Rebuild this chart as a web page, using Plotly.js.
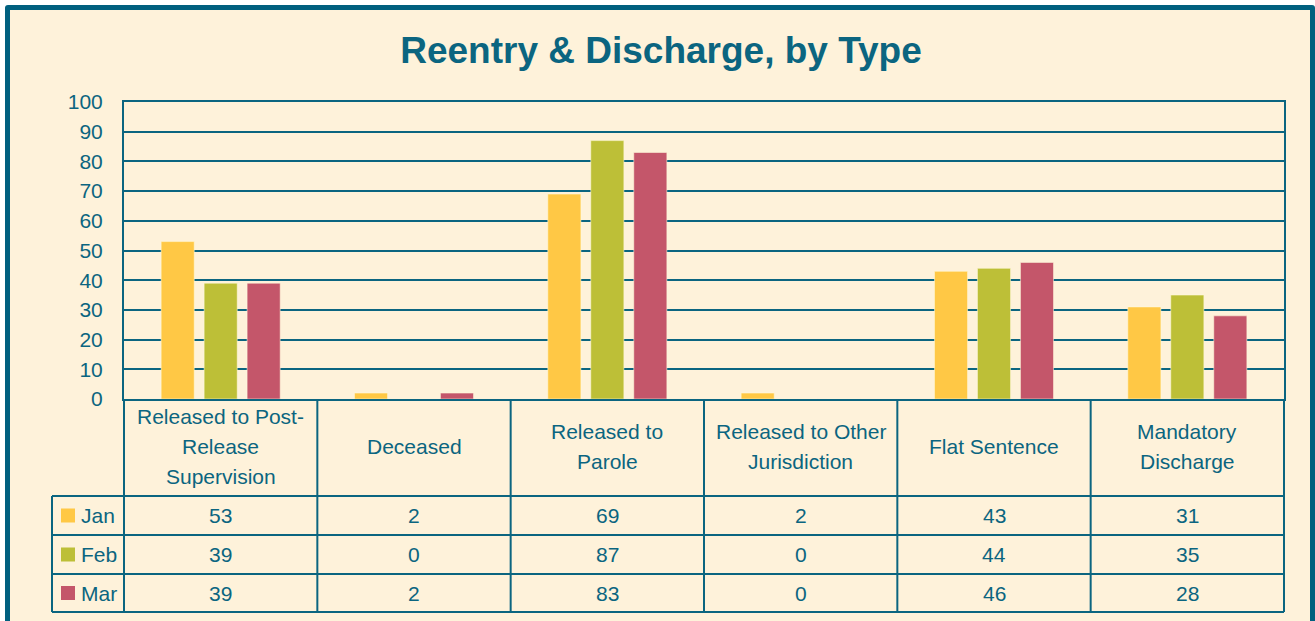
<!DOCTYPE html>
<html>
<head>
<meta charset="utf-8">
<script src="https://cdn.plot.ly/plotly-3.0.1.min.js"></script>
<style>
  html, body { margin: 0; padding: 0; background: #ffffff; overflow: hidden; }
  #frame {
    position: absolute; left: 5px; top: 5px; width: 1300px; height: 700px;
    background: #FEF2DA; border: 5px solid #00607F; border-radius: 3px;
  }
  #chart { position: absolute; left: 0; top: 0; width: 1315px; height: 621px; }
</style>
</head>
<body>
<div id="frame"></div>
<div id="chart"></div>
<script>
// ---- data ----
const categories = [
  "Released to Post-<br>Release<br>Supervision",
  "Deceased",
  "Released to<br>Parole",
  "Released to Other<br>Jurisdiction",
  "Flat Sentence",
  "Mandatory<br>Discharge"
];
const seriesNames = ["Jan", "Feb", "Mar"];
const janValues = [53, 2, 69, 2, 43, 31];
const febValues = [39, 0, 87, 0, 44, 35];
const marValues = [39, 2, 83, 0, 46, 28];
const seriesColors = ["#FFC845", "#BDBF37", "#C4566A"];
const yTicks = [0, 10, 20, 30, 40, 50, 60, 70, 80, 90, 100];

const allValues = [janValues, febValues, marValues];
const teal = "#0B6580";
const lineColor = "#0B6580";
const fontFam = "Liberation Sans, Arial, sans-serif";

// geometry (pixels) of plot area
const W = 1315, H = 621;
const L = 124, R = 1284, T = 102, B = 399;
const pw = R - L, ph = B - T;
const px = p => (p - L) / pw;
const py = p => (B - p) / ph;

const traces = allValues.map((vals, k) => ({
  type: "bar",
  name: seriesNames[k],
  x: categories,
  y: vals,
  marker: { color: seriesColors[k], line: { color: "rgba(255,250,220,0.55)", width: 1 } },
  hoverinfo: "skip"
}));

const n = categories.length;
const shapes = [];
const annotations = [];
const lw = 2;
const textSize = 21;
const lineSpacing = 30;
// table geometry
const headerBottom = 496;
const rowBounds = [496, 535, 574, 612];
const legendLeft = 52;

for (let i = 0; i <= n; i++) {
  shapes.push({ type: "line", xref: "paper", yref: "paper", x0: i / n, x1: i / n,
    y0: 0, y1: py(rowBounds[rowBounds.length - 1]), line: { color: lineColor, width: lw } });
}
shapes.push({ type: "line", xref: "paper", yref: "paper", x0: px(legendLeft), x1: px(legendLeft),
  y0: py(rowBounds[0]), y1: py(rowBounds[rowBounds.length - 1]), line: { color: lineColor, width: lw } });
rowBounds.forEach(b => {
  shapes.push({ type: "line", xref: "paper", yref: "paper", x0: px(legendLeft), x1: 1,
    y0: py(b), y1: py(b), line: { color: lineColor, width: lw } });
});

// header labels, one annotation per line
const headerMid = (B + headerBottom) / 2 - 1;
categories.forEach((c, i) => {
  const lines = c.split("<br>");
  lines.forEach((ln, j) => {
    const yc = headerMid + (j - (lines.length - 1) / 2) * lineSpacing;
    annotations.push({ xref: "paper", yref: "paper", x: (i + 0.5) / n, y: py(yc),
      text: ln, showarrow: false, xanchor: "center", yanchor: "middle",
      font: { family: fontFam, size: textSize, color: teal } });
  });
});

// rows
seriesNames.forEach((s, k) => {
  const yc = (rowBounds[k] + rowBounds[k + 1]) / 2;
  shapes.push({ type: "rect", xref: "paper", yref: "paper",
    x0: px(61), x1: px(75), y0: py(yc - 7), y1: py(yc + 7),
    fillcolor: seriesColors[k], line: { width: 0 } });
  annotations.push({ xref: "paper", yref: "paper", x: px(79), y: py(yc), text: s,
    showarrow: false, xanchor: "left", yanchor: "middle",
    font: { family: fontFam, size: textSize, color: teal } });
  allValues[k].forEach((v, i) => {
    annotations.push({ xref: "paper", yref: "paper", x: (i + 0.5) / n, y: py(yc), text: String(v),
      showarrow: false, xanchor: "center", yanchor: "middle",
      font: { family: fontFam, size: textSize, color: teal } });
  });
});

const layout = {
  width: W, height: H,
  margin: { l: L, r: W - R, t: T, b: H - B, pad: 0 },
  paper_bgcolor: "rgba(0,0,0,0)",
  plot_bgcolor: "rgba(0,0,0,0)",
  title: { text: "<b>Reentry & Discharge, by Type</b>", x: 661 / W, xref: "container", xanchor: "center",
    y: 1 - 50 / H, yref: "container", yanchor: "middle",
    font: { family: fontFam, size: 37, color: teal } },
  barmode: "group",
  bargap: 0.333,
  bargroupgap: 0.23,
  showlegend: false,
  xaxis: { showticklabels: false, ticks: "", showgrid: false, zeroline: false,
    showline: true, mirror: true, linecolor: lineColor, linewidth: lw, fixedrange: true },
  yaxis: { range: [0, 100], tickvals: yTicks, ticktext: yTicks.map(String),
    showgrid: true, gridcolor: lineColor, gridwidth: lw, zeroline: false,
    showline: true, mirror: true, linecolor: lineColor, linewidth: lw,
    ticks: "", ticklabelstandoff: 15,
    tickfont: { family: fontFam, size: textSize, color: teal }, fixedrange: true },
  shapes: shapes,
  annotations: annotations
};

Plotly.newPlot("chart", traces, layout, { displayModeBar: false, staticPlot: true });
</script>
</body>
</html>
